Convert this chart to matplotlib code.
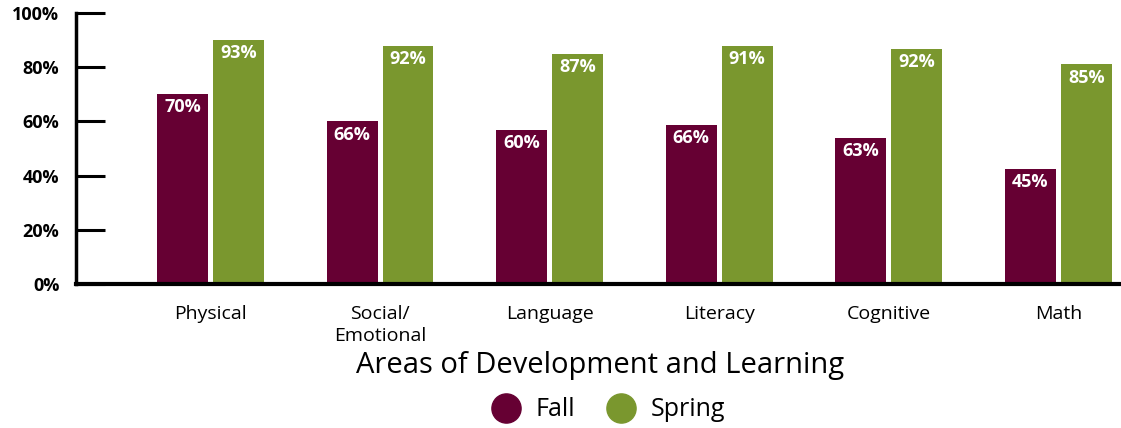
import matplotlib
matplotlib.use("Agg")
import matplotlib.pyplot as plt
from matplotlib.lines import Line2D
import numpy as np

# Data
areas = ["Physical", "Social/\nEmotional", "Language", "Literacy", "Cognitive", "Math"]
fall_labels = ["70%", "66%", "60%", "66%", "63%", "45%"]
spring_labels = ["93%", "92%", "87%", "91%", "92%", "85%"]
# bar heights as drawn in the picture (they do not follow the printed labels exactly)
fall_heights = [70, 60, 57, 58.7, 54, 42.4]
spring_heights = [90, 87.8, 85, 88, 86.7, 81]
y_ticks = [0, 20, 40, 60, 80, 100]
y_tick_labels = ["0%", "20%", "40%", "60%", "80%", "100%"]

fall_color = "#660033"
spring_color = "#7a972e"

plt.rcParams['font.family'] = ['Open Sans', 'DejaVu Sans']

fig = plt.figure(figsize=(11.21, 4.28), dpi=100)
ax = fig.add_axes([76 / 1121, 1 - 284 / 428, 1 - 76 / 1121, (284 - 13) / 428])

x = np.arange(len(areas))
w = 0.30
off = 0.165
bars_f = ax.bar(x - off, fall_heights, w, color=fall_color)
bars_s = ax.bar(x + off, spring_heights, w, color=spring_color)

# value labels inside the top of each bar
for bars, labels in [(bars_f, fall_labels), (bars_s, spring_labels)]:
    for b, lab in zip(bars, labels):
        ax.annotate(lab, (b.get_x() + b.get_width() / 2, b.get_height()),
                    xytext=(0, -3), textcoords="offset points",
                    ha="center", va="top", color="white",
                    fontsize=13, fontweight="bold")

ax.set_xlim(-0.793, 5.369)
ax.set_ylim(0, 100)

ax.spines['top'].set_visible(False)
ax.spines['right'].set_visible(False)
ax.spines['left'].set_linewidth(2.5)
ax.spines['bottom'].set_linewidth(3)
ax.spines['left'].set_bounds(0, 100)

ax.set_yticks(y_ticks)
ax.set_yticklabels(y_tick_labels, fontsize=13, fontweight="bold")
ax.tick_params(axis='y', direction='in', length=21, width=2.2, pad=12)

ax.set_xticks(x)
ax.set_xticklabels(areas, fontsize=14, linespacing=1.3)
ax.tick_params(axis='x', length=0, pad=15)

fig.text(600 / 1121, 1 - 366 / 428, "Areas of Development and Learning",
         ha="center", va="center", fontsize=21)

handles = [Line2D([], [], marker='o', linestyle='none', markersize=21,
                  markerfacecolor=fall_color, markeredgecolor=fall_color),
           Line2D([], [], marker='o', linestyle='none', markersize=21,
                  markerfacecolor=spring_color, markeredgecolor=spring_color)]
fig.legend(handles, ["Fall", "Spring"], loc="center",
           bbox_to_anchor=(603 / 1121, 1 - 410 / 428), ncol=2, frameon=False,
           fontsize=18, handletextpad=0.2, columnspacing=0.8)

fig.savefig("out.png", dpi=100)
